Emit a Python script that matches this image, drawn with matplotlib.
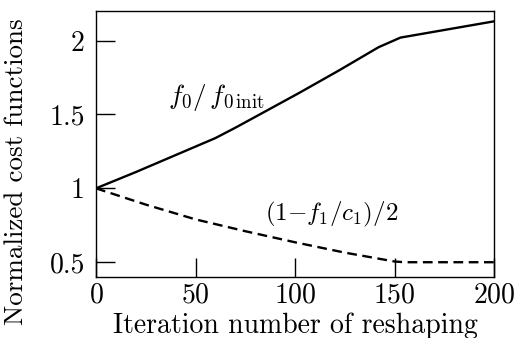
import numpy as np
import matplotlib
matplotlib.use("Agg")
import matplotlib.pyplot as plt

plt.rcParams['font.family'] = 'serif'
plt.rcParams['font.serif'] = ['cmr10']
plt.rcParams['mathtext.fontset'] = 'cm'
plt.rcParams['axes.formatter.use_mathtext'] = True
plt.rcParams['lines.scale_dashes'] = False

# iteration counts and normalized cost values
iters_f0 = [0, 20, 40, 60, 70, 82, 102, 122, 142, 153, 200]
f0_ratio = [1.0, 1.11, 1.225, 1.34, 1.41, 1.498, 1.645, 1.797, 1.955, 2.02, 2.13]
iters_f1 = [0, 25, 50, 75, 100, 125, 150, 155, 200]
f1_term = [1.0, 0.89, 0.79, 0.71, 0.635, 0.565, 0.505, 0.50, 0.50]

xticks = [0, 50, 100, 150, 200]
yticks = [0.5, 1, 1.5, 2]

fig = plt.figure(figsize=(5.14, 3.38), dpi=100)
ax = fig.add_axes([96/514, 1 - 277/338, 398/514, 266/338])

ax.plot(iters_f0, f0_ratio, color='black', lw=1.7)
ax.plot(iters_f1, f1_term, color='black', lw=1.7, dashes=(7, 4))

ax.text(36, 1.615, r'$f_0/\,f_{0\,\mathrm{init}}$', fontsize=19.5, va='center')
ax.text(85, 0.82, r'$(1{-}f_1/c_1)/2$', fontsize=18, va='center')

ax.set_xlim(0, 200)
ax.set_ylim(0.4, 2.2)
ax.set_xticks(xticks)
ax.set_yticks(yticks)
ax.set_yticklabels(['0.5', '1', '1.5', '2'])
ax.tick_params(direction='in', length=14, width=1, labelsize=20)
ax.tick_params(axis='x', pad=4)
ax.tick_params(axis='y', pad=8)
for s in ax.spines.values():
    s.set_linewidth(1)

ax.set_xlabel('Iteration number of reshaping', fontsize=20)
ax.set_ylabel('Normalized cost functions', fontsize=19.5)
ax.xaxis.set_label_coords(0.5, -0.135)
ax.yaxis.set_label_coords(-0.17, 0.395)

fig.savefig('out.png', dpi=100)
